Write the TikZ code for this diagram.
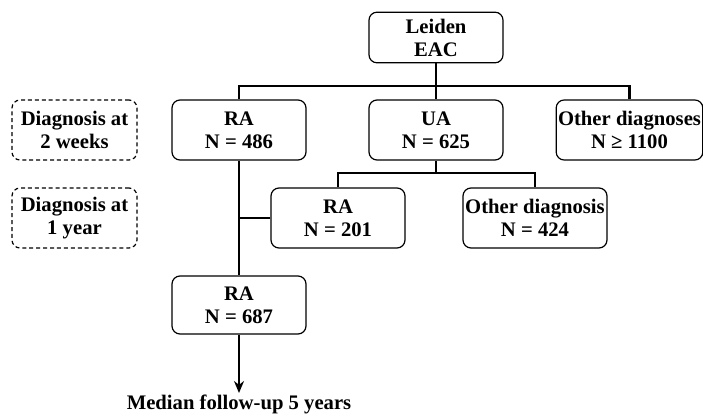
\documentclass[tikz,border=0pt]{standalone}
\usepackage{fontspec}
\setmainfont{Liberation Serif}
\usepackage{tikz}
\usetikzlibrary{shapes, arrows.meta, calc, positioning}
\tikzset{box/.style={draw, rounded corners=6pt, line width=0.9pt, align=center, inner sep=1pt,
    minimum width=100.5pt, minimum height=45pt, font=\fontsize{15.5}{17.25}\selectfont\bfseries}}
\tikzset{stagebox/.style={box, dashed, dash pattern=on 3pt off 2.2pt, minimum width=93.75pt}}
\tikzset{edge/.style={color=black, line width=1.7pt}}

\begin{document}
\begin{tikzpicture}[x=0.75pt, y=-0.75pt]
        \useasboundingbox (0,0) rectangle (703,417);

        \node[box, minimum height=38pt] (lei) at (436, 37.5) {Leiden\\EAC};
        \node[box] (ra1) at (239, 130) {RA\\N = 486};
        \node[box] (ua) at (436, 130) {UA\\N = 625};
        \node[box, minimum width=110pt, inner xsep=0pt] (oth) at (629.5, 130) {Other diagnoses\\N ≥ 1100};
        \node[box] (ra2) at (338, 218) {RA\\N = 201};
        \node[box, minimum width=108pt, inner xsep=0pt] (othd) at (535, 218) {Other diagnosis\\N = 424};
        \node[box, minimum height=43.5pt] (ra3) at (239, 305) {RA\\N = 687};

        \node[stagebox] (wk2) at (74.5, 130) {Diagnosis at\\2 weeks};
        \node[stagebox] (yr1) at (74.5, 218) {Diagnosis at\\1 year};

        \node[anchor=north, inner sep=1pt, font=\fontsize{15.5}{17.25}\selectfont\bfseries] (fu) at (239, 393)
        {Median follow-up 5 years};

        \coordinate (j1) at (436, 86);
        \coordinate (j2) at (436, 173);

        \draw [edge] (lei) -- (ua);
        \draw [edge] (j1) -| (ra1);
        \draw [edge] (j1) -| (oth);
        \draw [edge] (ua) -- (j2);
        \draw [edge] (j2) -| (ra2);
        \draw [edge] (j2) -| (othd);
        \draw [edge] (ra1) -- (ra3);
        \draw [edge] (ra2.west) -- (ra2.west -| ra1);
        \draw [edge, -{Stealth[length=9pt, width=7.5pt]}] (ra3) -- (fu);
    \end{tikzpicture}
\end{document}
